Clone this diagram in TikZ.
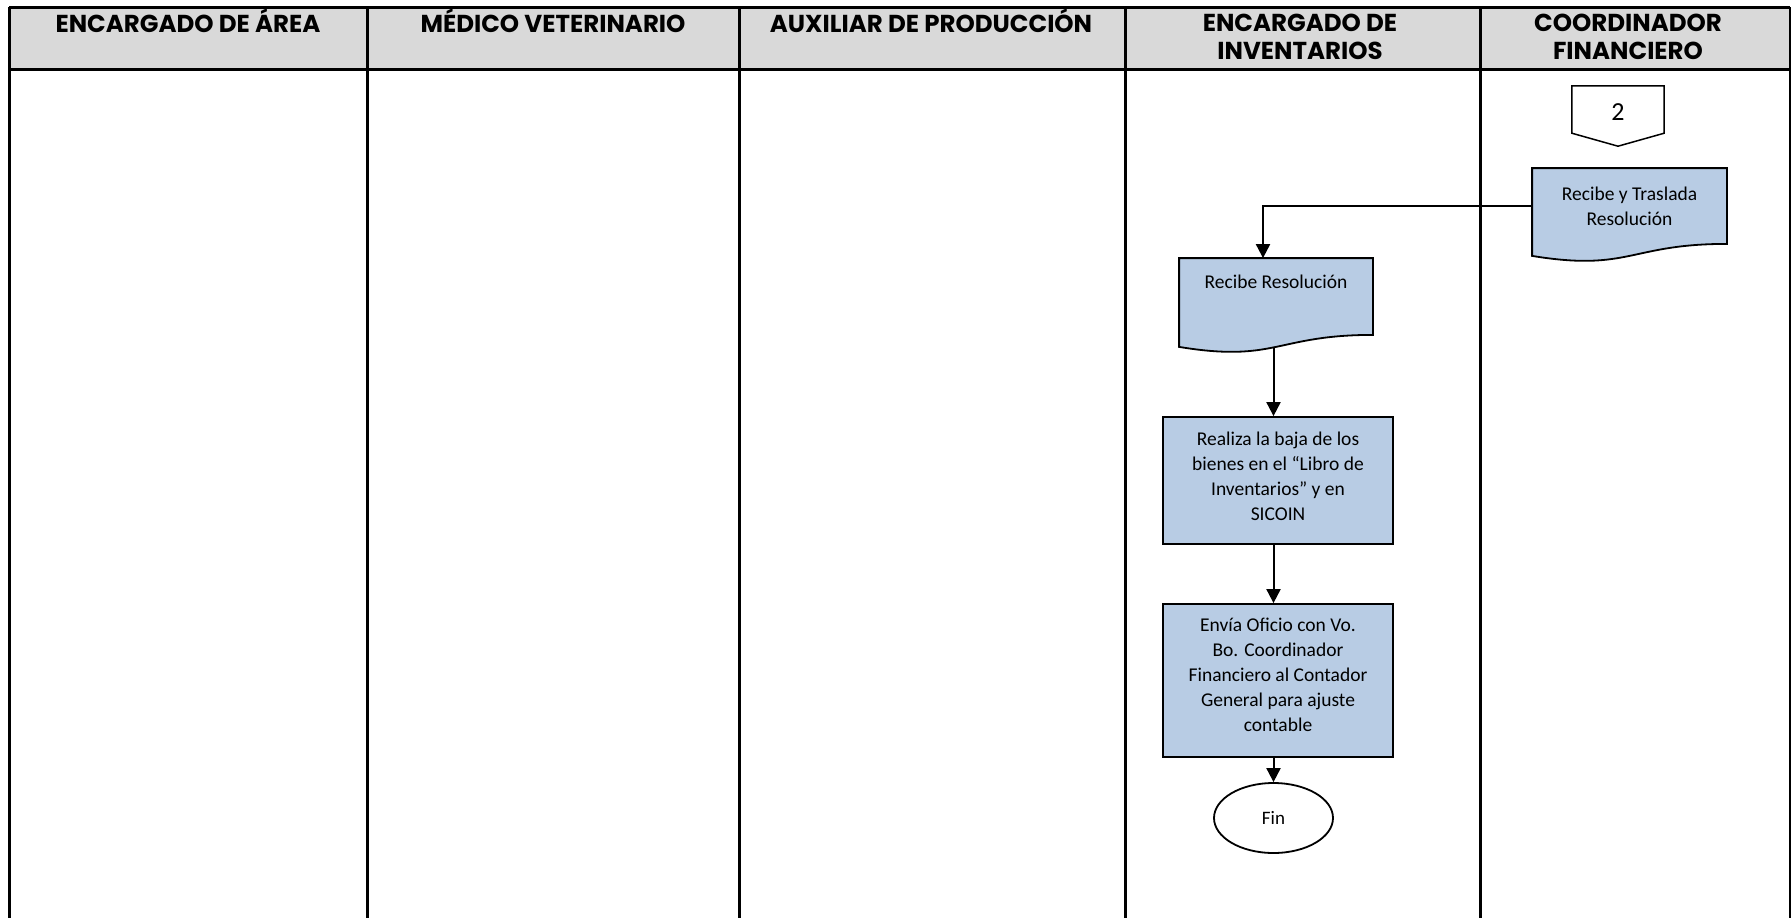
\documentclass[tikz,border=0pt]{standalone}
\usepackage{fontspec}
\setmainfont{Carlito}
\newfontfamily\gothic{Poppins}
\usetikzlibrary{arrows.meta,calc,backgrounds,shapes.geometric}
\definecolor{gris}{HTML}{D9D9D9}
\definecolor{azul}{HTML}{B8CCE4}
\tikzset{
  cabecera/.style={font=\gothic\bfseries\fontsize{24.5}{28}\selectfont, align=center},
  caja/.style={draw, line width=1.8pt, fill=azul, font=\fontsize{19.5}{25}\selectfont, align=center, inner sep=0pt},
  docu/.style={caja, draw=none, fill=none},
  flecha/.style={line width=2pt, -{Triangle[width=14pt,length=14pt]}},
}
\newcommand{\documento}[1]{%
  \draw[caja] (#1.north west) -- (#1.north east) -- (#1.south east)
    .. controls (#1.south) and ($(#1.south)+(0,28)$) .. ($(#1.south west)+(0,12)$) -- cycle;}
\begin{document}
\begin{tikzpicture}[x=1pt,y=-1pt]
  \useasboundingbox (0,0) rectangle (1791,918);
  \fill[gris] (9,7) rectangle (1790,69);
  \draw[line width=3pt] (9,7) -- (1790,7) (9,69) -- (1790,69);
  \foreach \x in {9,367,739,1125,1480,1790}
    \draw[line width=3pt] (\x,7) -- (\x,918);

  \node[cabecera] (area) at (188,21) {ENCARGADO DE ÁREA};
  \node[cabecera] (medico) at (553,21) {MÉDICO VETERINARIO};
  \node[cabecera] (auxiliar) at (931,21) {AUXILIAR DE PRODUCCIÓN};
  \node[cabecera] (inventarios) at (1300,37) {ENCARGADO DE\\INVENTARIOS};
  \node[cabecera] (financiero) at (1628,37) {COORDINADOR\\FINANCIERO};

  \node[minimum width=92pt, minimum height=47pt, font=\fontsize{26}{30}\selectfont] (c2) at (1618,109.5) {\raisebox{-3pt}[\height][\depth]{2}};
  \draw[line width=1.5pt] (c2.north west) -- (c2.north east) -- (c2.south east)
    -- ($(c2.south)+(0,13)$) -- (c2.south west) -- cycle;

  \node[docu, minimum width=193pt, minimum height=74pt] (traslada) at (1629.5,206) {Recibe y Traslada\\Resolución};
  \node[docu, minimum width=192pt, minimum height=75pt] (recibe) at (1276,296.5) {\raisebox{14.5pt}[\height][\depth]{Recibe Resolución}};
  \node[caja, minimum width=230pt, minimum height=127pt] (baja) at (1278,480.5) {\raisebox{3pt}[\height][\depth]{\begin{tabular}{@{}c@{}}Realiza la baja de los\\bienes en el “Libro de\\Inventarios” y en\\SICOIN\end{tabular}}};
  \node[caja, minimum width=230pt, minimum height=153pt] (oficio) at (1278,680.5) {\raisebox{4pt}[\height][\depth]{\begin{tabular}{@{}c@{}}Envía Oficio con Vo.\\Bo. Coordinador\\Financiero al Contador\\General para ajuste\\contable\end{tabular}}};
  \node[draw, ellipse, line width=1.8pt, minimum width=119pt, minimum height=70pt, font=\fontsize{19}{25}\selectfont] (fin) at (1273.5,818) {Fin};
  \begin{scope}[on background layer]
    \documento{traslada}
    \documento{recibe}
  \end{scope}

  \draw[flecha] (traslada.west) -| ([xshift=-13pt]recibe.north);
  \draw[flecha] ($(recibe.south -| fin)+(0,12)$) -- (baja.north -| fin);
  \draw[flecha] (baja.south -| fin) -- (oficio.north -| fin);
  \draw[flecha] (oficio.south -| fin) -- (fin.north);
\end{tikzpicture}
\end{document}
